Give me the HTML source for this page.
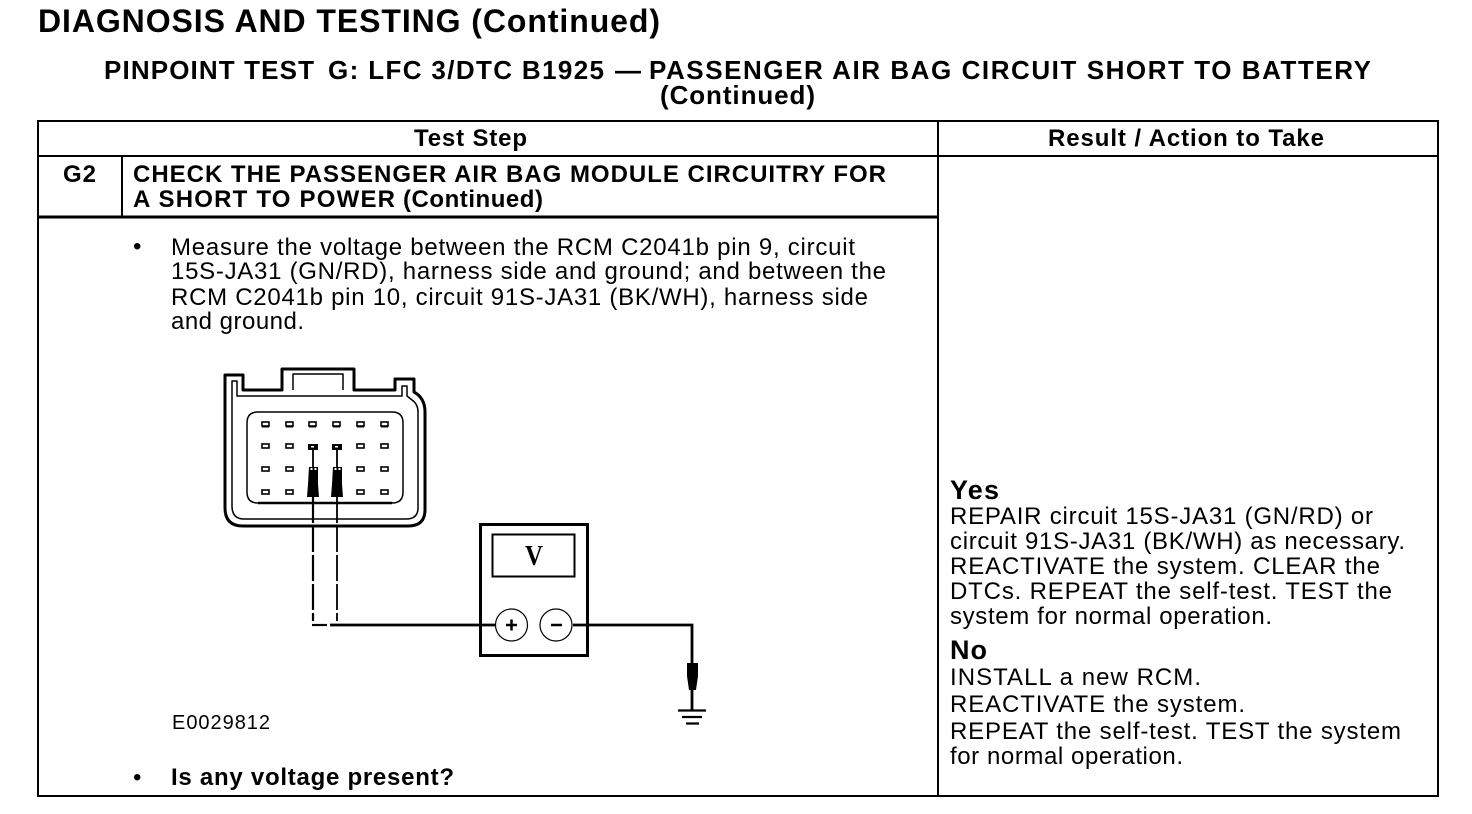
<!DOCTYPE html>
<html><head><meta charset="utf-8"><style>
html,body{margin:0;padding:0;background:#fff}
svg{display:block}
text{font-family:"Liberation Sans",Arial,sans-serif;fill:#000}
.b{font-weight:bold}
.s{font-size:24px}
</style></head><body>
<svg width="1472" height="814" viewBox="0 0 1472 814" xmlns="http://www.w3.org/2000/svg">
<rect width="1472" height="814" fill="#fff"/>
<text x="38" y="32" class="b" font-size="32" textLength="622" lengthAdjust="spacing">DIAGNOSIS AND TESTING (Continued)</text>
<text x="104" y="79" class="b" font-size="26" textLength="210" lengthAdjust="spacing">PINPOINT TEST</text>
<text x="328" y="79" class="b" font-size="26" textLength="276" lengthAdjust="spacing">G: LFC 3/DTC B1925</text>
<text x="615" y="79" class="b" font-size="26" textLength="26" lengthAdjust="spacingAndGlyphs">—</text>
<text x="649" y="79" class="b" font-size="26" textLength="722" lengthAdjust="spacing">PASSENGER AIR BAG CIRCUIT SHORT TO BATTERY</text>
<text x="660" y="104" class="b" font-size="26" textLength="155" lengthAdjust="spacing">(Continued)</text>

<g stroke="#000" fill="none" shape-rendering="crispEdges">
<rect x="38" y="121" width="1400" height="675" stroke-width="2"/>
<path d="M38 156H1438M938 121V796M122 156V217" stroke-width="2"/>
<path d="M38 217H938" stroke-width="3"/>
</g>

<text x="414" y="146" class="b s" textLength="113" lengthAdjust="spacing">Test Step</text>
<text x="1048" y="146" class="b s" textLength="276" lengthAdjust="spacing">Result / Action to Take</text>
<text x="63" y="182" class="b s" textLength="33" lengthAdjust="spacing">G2</text>
<text x="133" y="182" class="b s" textLength="753" lengthAdjust="spacing">CHECK THE PASSENGER AIR BAG MODULE CIRCUITRY FOR</text>
<text x="133" y="207" class="b s" textLength="262" lengthAdjust="spacing">A SHORT TO POWER</text>
<text x="403" y="207" class="b s" textLength="140" lengthAdjust="spacing">(Continued)</text>

<text x="133" y="254" class="s">•</text>
<text x="171" y="255" class="s" textLength="684" lengthAdjust="spacing">Measure the voltage between the RCM C2041b pin 9, circuit</text>
<text x="171" y="279" class="s" textLength="715" lengthAdjust="spacing">15S-JA31 (GN/RD), harness side and ground; and between the</text>
<text x="171" y="305" class="s" textLength="697" lengthAdjust="spacing">RCM C2041b pin 10, circuit 91S-JA31 (BK/WH), harness side</text>
<text x="171" y="329" class="s" textLength="133" lengthAdjust="spacing">and ground.</text>

<text x="172" y="729" font-size="20" textLength="98" lengthAdjust="spacing">E0029812</text>
<text x="133" y="785" class="s">•</text>
<text x="171" y="785" class="b s" textLength="283" lengthAdjust="spacing">Is any voltage present?</text>

<text x="950" y="499" class="b" font-size="27" textLength="49" lengthAdjust="spacing">Yes</text>
<text x="950" y="524" class="s" textLength="423" lengthAdjust="spacing">REPAIR circuit 15S-JA31 (GN/RD) or</text>
<text x="950" y="549" class="s" textLength="455" lengthAdjust="spacing">circuit 91S-JA31 (BK/WH) as necessary.</text>
<text x="950" y="574" class="s" textLength="430" lengthAdjust="spacing">REACTIVATE the system. CLEAR the</text>
<text x="950" y="599" class="s" textLength="442" lengthAdjust="spacing">DTCs. REPEAT the self-test. TEST the</text>
<text x="950" y="624" class="s" textLength="322" lengthAdjust="spacing">system for normal operation.</text>
<text x="950" y="659" class="b" font-size="27" textLength="37" lengthAdjust="spacing">No</text>
<text x="950" y="685" class="s" textLength="251" lengthAdjust="spacing">INSTALL a new RCM.</text>
<text x="950" y="712" class="s" textLength="295" lengthAdjust="spacing">REACTIVATE the system.</text>
<text x="950" y="739" class="s" textLength="451" lengthAdjust="spacing">REPEAT the self-test. TEST the system</text>
<text x="950" y="764" class="s" textLength="233" lengthAdjust="spacing">for normal operation.</text>

<!-- connector -->
<g fill="none" stroke="#000" stroke-linejoin="round">
<path d="M225 375H243V390H282V369H354V390H395V379H414V392Q425 398 425 412V510Q425 526 408 526H243Q225 526 225 508Z" stroke-width="3"/>
<path d="M232 381H237V396H402V386H407V396L412 400Q418 404 418 412V508Q418 519 406 519H244Q232 519 232 506Z" stroke-width="1.5"/>
<path d="M293 390V374H343V390" stroke-width="1.5"/>
<path d="M258 412H392Q403 412 403 423V492Q403 503 392 503H258Q247 503 247 492V423Q247 412 258 412Z" stroke-width="1.5"/>
<path d="M258 503H392" stroke-width="2.6"/>
</g>
<g fill="#fff" stroke="#000" stroke-width="1.6">
<rect x="262" y="422" width="7" height="4"/><rect x="286" y="422" width="7" height="4"/><rect x="309" y="422" width="7" height="4"/><rect x="333" y="422" width="7" height="4"/><rect x="357" y="422" width="7" height="4"/><rect x="381" y="422" width="7" height="4"/>
<rect x="262" y="444" width="7" height="4"/><rect x="286" y="444" width="7" height="4"/><rect x="357" y="444" width="7" height="4"/><rect x="381" y="444" width="7" height="4"/>
<rect x="262" y="467" width="7" height="4"/><rect x="286" y="467" width="7" height="4"/><rect x="357" y="467" width="7" height="4"/><rect x="381" y="467" width="7" height="4"/>
<rect x="262" y="490" width="7" height="4"/><rect x="286" y="490" width="7" height="4"/><rect x="357" y="490" width="7" height="4"/><rect x="381" y="490" width="7" height="4"/>
</g>
<g stroke="#000" stroke-width="2" fill="none">
<path d="M262 426.500H269M286 426.500H293M309 426.500H316M333 426.500H340M357 426.500H364M381 426.500H388"/>
</g>
<!-- probes -->
<g fill="#000" stroke="none">
<rect x="308" y="444" width="10" height="6"/><rect x="332" y="444" width="10" height="6"/>
<path d="M309 467H318V484L319 497H307L308 484Z"/>
<path d="M333 467H342V484L343 497H331L332 484Z"/>
</g>
<g fill="#fff"><rect x="311" y="446" width="3" height="1.500"/><rect x="335" y="446" width="3" height="1.500"/>
<rect x="310.500" y="468" width="2" height="2"/><rect x="314.500" y="468" width="2" height="2"/><rect x="334.500" y="468" width="2" height="2"/><rect x="338.500" y="468" width="2" height="2"/></g>
<path d="M313 449V468M337 449V468" stroke="#000" stroke-width="1.8"/>
<g fill="none" stroke="#000">
<path d="M313 497V621" stroke-width="2.2" stroke-dasharray="26 3"/>
<path d="M337 497V621" stroke-width="1.8" stroke-dasharray="26 3"/>
<path d="M312 625H327" stroke-width="2.2"/>
</g>
<!-- meter -->
<g fill="none" stroke="#000">
<rect x="480.500" y="524.500" width="107" height="131" stroke-width="3"/>
<rect x="492.500" y="534.500" width="82" height="42" stroke-width="2"/>
<path d="M330 625H495M573 625H692V663M692 688V710" stroke-width="2.8"/>
<circle cx="511.500" cy="625" r="16" fill="#fff" stroke-width="1.2"/>
<circle cx="556" cy="625" r="16" fill="#fff" stroke-width="1.2"/>
<path d="M506 625H517M511.500 619.500V630.500M551 625H562" stroke-width="2.5"/>
<path d="M678 710.500H706M682 717H702M686 723.500H699" stroke-width="2.2"/>
</g>
<text x="525" y="565" font-size="29" font-weight="bold" style="font-family:'Liberation Serif',serif" textLength="18" lengthAdjust="spacingAndGlyphs">V</text>
<path d="M687 663H698V676L696 690H689L687 676Z" fill="#000"/>
</svg>
</body></html>
